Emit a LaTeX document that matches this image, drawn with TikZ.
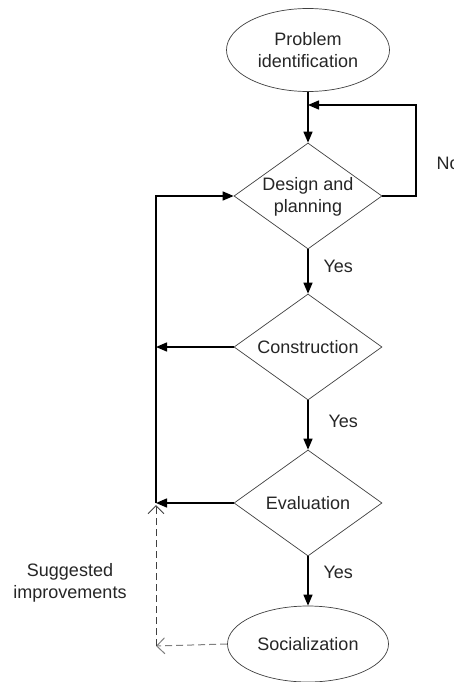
\documentclass[tikz,border=0pt]{standalone}
\usepackage{fontspec}
\setmainfont{Liberation Sans}
\usetikzlibrary{shapes.geometric,arrows.meta}
\begin{document}
\begin{tikzpicture}[x=1pt,y=-1pt,
  every node/.style={font=\fontsize{18}{22.5}\selectfont, text=black!85},
  oval/.style={ellipse, draw=black!75, line width=0.7pt, inner sep=0pt, align=center},
  dia/.style={diamond, draw=black!75, line width=0.7pt, inner sep=0pt, minimum width=148pt, minimum height=106pt},
  diatext/.style={align=center},
  conn/.style={draw=black, line width=1.4pt, -{Triangle[length=11pt,width=9pt]}},
  sugg/.style={line width=1pt, dash pattern=on 7pt off 4pt, -{Straight Barb[length=8pt,width=16pt]}},
  lab/.style={anchor=west}]
\useasboundingbox (0,0) rectangle (454,682);
\fill[white] (0,0) rectangle (454,682);
% nodes
\node[oval, minimum width=163pt, minimum height=83pt] (pi) at (308,50) {Problem\\identification};
\node[dia] (d1) at (308,196) {};
\node[diatext] (t1) at (308,197) {Design and\\planning};
\node[dia] (d2) at (308,347) {};
\node[diatext] (t2) at (308,347) {Construction};
\node[dia] (d3) at (308,503) {};
\node[diatext] (t3) at (308,503) {Evaluation};
\node[oval, minimum width=161pt, minimum height=76pt] (soc) at (308,644) {Socialization};
% coordinates
\coordinate (loopR) at (416,196);
\coordinate (loopT) at (416,105);
\coordinate (loopE) at (308,105);
\coordinate (lc) at (156,347);
\coordinate (le) at (156,503);
\coordinate (ltop) at (156,196);
\coordinate (sl) at (156,646);
\coordinate (st) at (156,505);
% connectors
\draw[conn] (pi.south) -- (d1.north);
\draw[conn] (d1.east) -- (loopR) -- (loopT) -- (loopE);
\draw[conn] (d1.south) -- (d2.north);
\draw[conn] (d2.south) -- (d3.north);
\draw[conn] (d3.south) -- (soc.north);
\draw[conn] (d2.west) -- (lc);
\draw[conn] (d3.west) -- (le);
\draw[conn] (le) -- (ltop) -- (d1.west);
\draw[sugg, draw=black!50] (soc.west) -- (sl);
\draw[sugg, draw=black!75] (sl) -- (st);
% labels
\node[lab] (no) at (433,163) {No};
\node[lab] (y1) at (320,266) {Yes};
\node[lab] (y2) at (325,421) {Yes};
\node[lab] (y3) at (320,572) {Yes};
\node[align=center] (si) at (70,583) {Suggested\\improvements};
\end{tikzpicture}
\end{document}
